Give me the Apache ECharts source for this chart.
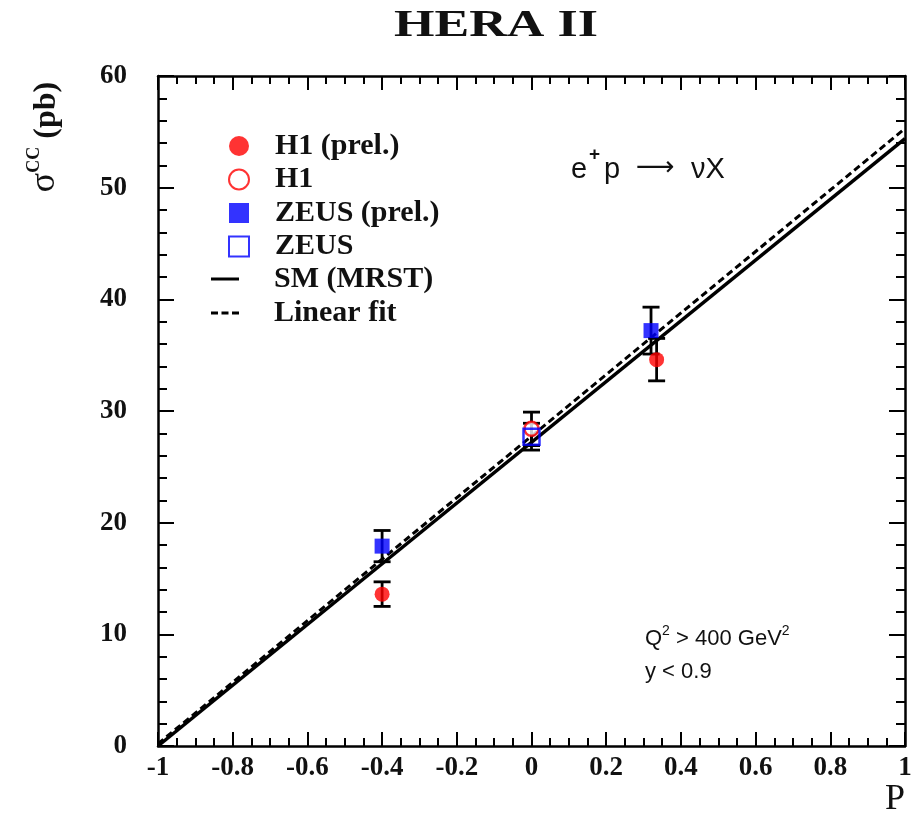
<!DOCTYPE html>
<html>
<head>
<meta charset="utf-8">
<script src="https://cdn.jsdelivr.net/npm/echarts@6/dist/echarts.min.js"></script>
<style>html,body{margin:0;padding:0;background:#fff;}#c{width:918px;height:814px;}</style>
</head>
<body>
<div id="c"></div>
<script>
// ---- data ----
const h1PrelP = [-0.4, 0.335];
const h1PrelS = [13.6, 34.6];
const h1PrelErr = [1.1, 1.9];
const h1P = [0.0];
const h1S = [28.4];
const h1Err = [1.5];
const zeusPrelP = [-0.4, 0.32];
const zeusPrelS = [17.9, 37.2];
const zeusPrelErr = [1.4, 2.1];
const zeusP = [0.0];
const zeusS = [27.7];
const zeusErr = [1.2];
const smP = [-1, 1];
const smS = [0, 54.4];
const fitP = [-1, 1];
const fitS = [0.2, 55.3];
const xTicks = [-1, -0.8, -0.6, -0.4, -0.2, 0, 0.2, 0.4, 0.6, 0.8, 1];
const yTicks = [0, 10, 20, 30, 40, 50, 60];

const SERIF = '"Liberation Serif", "Times New Roman", serif';
const SANS = '"Liberation Sans", "DejaVu Sans", sans-serif';

function zip(a, b) { return a.map((v, i) => [v, b[i]]); }
function zip3(a, b, c) { return a.map((v, i) => [v, b[i], c[i]]); }

const errData = [].concat(
  zip3(h1PrelP, h1PrelS, h1PrelErr),
  zip3(h1P, h1S, h1Err),
  zip3(zeusPrelP, zeusPrelS, zeusPrelErr),
  zip3(zeusP, zeusS, zeusErr)
);

const chart = echarts.init(document.getElementById('c'), null, {renderer: 'canvas'});

const axisCommon = {
  type: 'value',
  axisLine: {show: true, onZero: false, lineStyle: {color: '#000', width: 2.5}},
  splitLine: {show: false},
};

const option = {
  backgroundColor: '#fff',
  animation: false,
  grid: {left: 158, right: 13, top: 76, bottom: 68},
  xAxis: [
    Object.assign({}, axisCommon, {
      min: -1, max: 1, interval: 0.2, position: 'bottom',
      axisTick: {show: true, inside: true, length: 14, lineStyle: {color: '#000', width: 2}},
      minorTick: {show: true, splitNumber: 4, length: 8, lineStyle: {color: '#000', width: 2}},
      axisLabel: {show: true, margin: 9, color: '#111', fontFamily: SERIF, fontSize: 27, fontWeight: 'bold',
        customValues: xTicks,
        formatter: v => String(Math.round(v * 10) / 10)}
    }),
    Object.assign({}, axisCommon, {
      min: -1, max: 1, interval: 0.2, position: 'top',
      axisTick: {show: true, inside: true, length: 14, lineStyle: {color: '#000', width: 2}},
      minorTick: {show: true, splitNumber: 4, length: 8, lineStyle: {color: '#000', width: 2}},
      axisLabel: {show: false}
    })
  ],
  yAxis: [
    Object.assign({}, axisCommon, {
      min: 0, max: 60, interval: 10, position: 'left',
      axisTick: {show: true, inside: true, length: 16, lineStyle: {color: '#000', width: 2}},
      minorTick: {show: true, splitNumber: 5, length: 9, lineStyle: {color: '#000', width: 2}},
      axisLabel: {show: true, margin: 31, color: '#111', fontFamily: SERIF, fontSize: 27, fontWeight: 'bold',
        customValues: yTicks}
    }),
    Object.assign({}, axisCommon, {
      min: 0, max: 60, interval: 10, position: 'right',
      axisTick: {show: true, inside: true, length: 16, lineStyle: {color: '#000', width: 2}},
      minorTick: {show: true, splitNumber: 5, length: 9, lineStyle: {color: '#000', width: 2}},
      axisLabel: {show: false}
    })
  ],
  legend: [
    {
      orient: 'vertical', left: 223, top: 126, itemWidth: 20, itemHeight: 20, itemGap: 3.5,
      data: ['H1 (prel.)', 'H1', 'ZEUS (prel.)', 'ZEUS'],
      textStyle: {fontFamily: SERIF, fontSize: 30, fontWeight: 'bold', color: '#111', lineHeight: 30, padding: [0, 0, 0, 21]},
      selectedMode: false
    },
    {
      orient: 'vertical', left: 206, top: 259, itemWidth: 28, itemHeight: 20, itemGap: 4,
      data: [
        {name: 'SM (MRST)', icon: 'path://M0,0H28V3H0Z', itemStyle: {color: '#000'}},
        {name: 'Linear fit', icon: 'path://M0,0H7V3H0Z M10.5,0H17.5V3H10.5Z M21,0H28V3H21Z', itemStyle: {color: '#000'}}
      ],
      textStyle: {fontFamily: SERIF, fontSize: 30, fontWeight: 'bold', color: '#111', lineHeight: 30, padding: [0, 0, 0, 30]},
      selectedMode: false
    }
  ],
  graphic: [
    {type: 'text', x: 496, y: 26, scaleX: 1.37, z: 10,
      style: {text: 'HERA II', font: 'bold 38px ' + SERIF, fill: '#111', align: 'center', verticalAlign: 'middle'}},
    {type: 'text', x: 44, y: 137, rotation: Math.PI / 2, z: 10,
      style: {
        text: '{s|σ}{sup|CC}{n| (pb)}', align: 'center', verticalAlign: 'middle',
        rich: {
          s: {font: '36px ' + SERIF, fill: '#111', lineHeight: 38, verticalAlign: 'bottom'},
          sup: {font: 'bold 18px ' + SERIF, fill: '#111', lineHeight: 38, verticalAlign: 'top'},
          n: {font: 'bold 32px ' + SERIF, fill: '#111', lineHeight: 38, verticalAlign: 'bottom'}
        }
      }},
    {type: 'text', x: 905, y: 800, z: 10,
      style: {text: 'P', font: '36px ' + SERIF, fill: '#111', align: 'right', verticalAlign: 'middle'}},
    // e+p -> nu X
    {type: 'text', x: 571, y: 170, z: 10,
      style: {text: 'e', font: '29px ' + SANS, fill: '#111', align: 'left', verticalAlign: 'middle'}},
    {type: 'text', x: 589, y: 155, z: 10,
      style: {text: '+', font: 'bold 19px ' + SANS, fill: '#111', align: 'left', verticalAlign: 'middle'}},
    {type: 'text', x: 604, y: 170, z: 10,
      style: {text: 'p', font: '29px ' + SANS, fill: '#111', align: 'left', verticalAlign: 'middle'}},
    {type: 'text', x: 636, y: 168, z: 10,
      style: {text: '⟶', font: '27px ' + SANS, fill: '#111', align: 'left', verticalAlign: 'middle'}},
    {type: 'text', x: 691, y: 170, z: 10,
      style: {text: 'νX', font: '29px ' + SANS, fill: '#111', align: 'left', verticalAlign: 'middle'}},
    {type: 'text', x: 645, y: 637, z: 10,
      style: {
        text: '{t|Q}{sup|2}{t| > 400 GeV}{sup|2}', align: 'left', verticalAlign: 'middle',
        rich: {
          t: {font: '22px ' + SANS, fill: '#111', lineHeight: 26, verticalAlign: 'bottom'},
          sup: {font: '14px ' + SANS, fill: '#111', lineHeight: 26, verticalAlign: 'top'}
        }
      }},
    {type: 'text', x: 645, y: 672, z: 10,
      style: {text: 'y < 0.9', font: '22px ' + SANS, fill: '#111', align: 'left', verticalAlign: 'middle'}}
  ],
  series: [
    {
      name: 'SM (MRST)', type: 'line', xAxisIndex: 0, yAxisIndex: 0,
      data: zip(smP, smS), showSymbol: false, symbol: 'none', z: 3,
      lineStyle: {color: '#000', width: 3.5}, itemStyle: {color: '#000'}
    },
    {
      name: 'Linear fit', type: 'line', xAxisIndex: 0, yAxisIndex: 0,
      data: zip(fitP, fitS), showSymbol: false, symbol: 'none', z: 3,
      lineStyle: {color: '#000', width: 3, type: [7, 4]}, itemStyle: {color: '#000'}
    },
    {
      name: 'errors', type: 'custom', xAxisIndex: 0, yAxisIndex: 0, z: 2,
      data: errData,
      renderItem: function (params, api) {
        const x = api.value(0), y = api.value(1), e = api.value(2);
        const top = api.coord([x, y + e]);
        const bot = api.coord([x, y - e]);
        const st = {stroke: '#000', lineWidth: 2.8};
        const hw = 8.5;
        return {
          type: 'group',
          children: [
            {type: 'line', shape: {x1: top[0], y1: top[1], x2: bot[0], y2: bot[1]}, style: st},
            {type: 'line', shape: {x1: top[0] - hw, y1: top[1], x2: top[0] + hw, y2: top[1]}, style: st},
            {type: 'line', shape: {x1: bot[0] - hw, y1: bot[1], x2: bot[0] + hw, y2: bot[1]}, style: st}
          ]
        };
      }
    },
    {
      name: 'H1', type: 'scatter', data: zip(h1P, h1S), symbol: 'circle', symbolSize: 14, z: 4,
      itemStyle: {color: '#fff', borderColor: '#ff0000', borderWidth: 2.5}
    },
    {
      name: 'ZEUS', type: 'scatter', data: zip(zeusP, zeusS), symbol: 'rect', symbolSize: 16, z: 5,
      itemStyle: {color: 'rgba(255,255,255,0)', borderColor: '#0000ff', borderWidth: 2.5}
    },
    {
      name: 'H1 (prel.)', type: 'scatter', data: zip(h1PrelP, h1PrelS), symbol: 'circle', symbolSize: 15, z: 6,
      itemStyle: {color: '#ff0000'}
    },
    {
      name: 'ZEUS (prel.)', type: 'scatter', data: zip(zeusPrelP, zeusPrelS), symbol: 'rect', symbolSize: 15, z: 6,
      itemStyle: {color: '#0000ff'}
    }
  ]
};
chart.setOption(option);
</script>
</body>
</html>
